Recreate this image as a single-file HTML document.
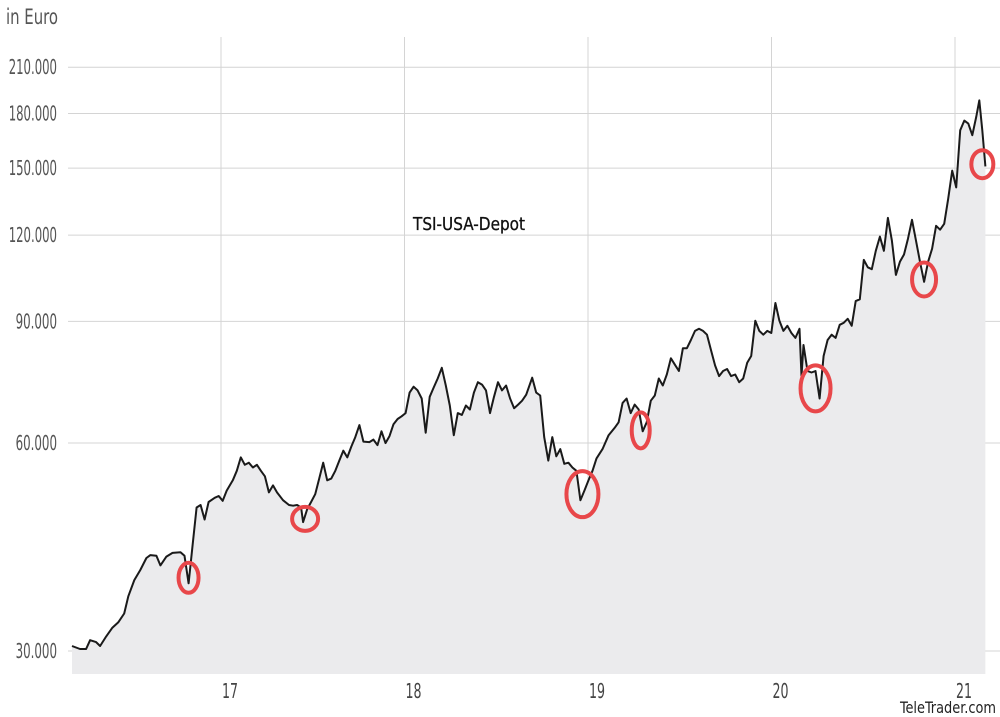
<!DOCTYPE html>
<html><head><meta charset="utf-8"><style>
html,body{margin:0;padding:0;background:#fff;}
svg{display:block;}
text{font-family:"Liberation Sans Narrow","DejaVu Sans Condensed","Liberation Sans",sans-serif;}
</style></head><body>
<svg id="chart" width="1000" height="717" viewBox="0 0 1000 717" xmlns="http://www.w3.org/2000/svg">
<g id="grid"></g>
<path id="area" fill="#ebebed" stroke="none"/>
<path id="line" fill="none" stroke="#1a1a1a" stroke-width="2" stroke-linejoin="round"/>
<g id="marks"></g>
<g id="labels"></g>
<text x="6" y="24" font-size="21" fill="#555" textLength="52" lengthAdjust="spacingAndGlyphs">in Euro</text>
<text x="413" y="230" font-size="18" fill="#111" textLength="112" lengthAdjust="spacingAndGlyphs" stroke="#111" stroke-width="0.3">TSI-USA-Depot</text>
<text x="996" y="713" font-size="16" fill="#222" text-anchor="end" textLength="96" lengthAdjust="spacingAndGlyphs">TeleTrader.com</text>
</svg>
<script>
const yTicks=[30,60,90,120,150,180,210];
const yTickLabels=["30.000","60.000","90.000","120.000","150.000","180.000","210.000"];
const xTicks=[17,18,19,20,21];
const xTickLabels=["17","18","19","20","21"];
const startYear=16.188;
const days=[0,16,28,36,48,56,68,80,92,104,112,124,136,148,156,168,176,188,200,216,224,232,240,248,256,264,272,284,292,300,308,320,328,
336,344,352,360,368,376,384,392,400,408,420,432,440,448,456,460,468,
476,484,492,500,508,516,524,532,540,548,556,564,572,580,592,600,608,616,624,632,640,648,656,664,672,680,688,696,704,712,720,728,736,744,752,760,768,776,784,792,800,808,816,824,832,840,848,856,864,872,880,888,896,904,916,924,932,940,948,956,964,972,980,988,996,1004,1012,1020,1028,1036,1044,1056,1068,1080,1088,1096,1104,1112,1120,1128,1136,1144,1152,1160,1168,1176,1184,1192,1200,1208,1216,1224,1232,1240,1248,1256,1264,1272,1280,1288,1296,1304,1312,1320,1328,1336,1344,1352,1360,1368,1376,1384,1392,1400,1408,1416,1424,1432,1440,1448,1452,1456,1464,1472,1480,1488,1496,1504,1512,1520,1528,1536,1544,1552,1560,1568,1576,1584,1592,1600,1608,1616,1624,1632,1640,1648,1656,1664,1672,1680,1688,1696,1704,1712,1720,1728,1736,1744,1752,1760,1768,1776,1784,1792,1800,1806,1812,1818];
const values=[30.5,30.2,30.2,31.1,30.9,30.5,31.5,32.4,33.0,34.0,36.0,38.0,39.3,40.9,41.3,41.2,39.9,41.1,41.6,41.7,41.2,37.6,42.7,48.4,48.8,46.5,49.3,50.0,50.3,49.5,51.2,53.0,54.7,
57.2,55.8,56.2,55.3,55.8,54.7,53.7,50.9,52.1,50.9,49.6,48.8,48.7,48.8,48.4,46.1,48.1,
49.3,50.6,53.3,56.2,53.0,53.3,54.7,56.6,58.5,57.2,59.3,61.2,63.7,60.3,60.2,60.7,59.6,62.4,60.0,61.4,63.9,65.0,65.6,66.3,71.0,72.4,71.5,69.6,62.1,70.0,72.2,74.4,77.1,72.7,68.0,61.6,66.3,65.9,68.0,67.1,71.0,73.5,72.9,71.5,66.3,70.0,73.5,71.5,72.7,69.6,67.4,68.2,69.1,70.5,74.6,71.0,70.3,61.2,56.6,61.2,57.4,58.8,56.0,56.2,55.3,54.7,49.6,51.2,53.0,54.7,57.0,58.8,61.6,63.1,64.3,68.6,69.6,66.3,68.2,67.1,62.4,64.3,69.1,70.3,74.4,72.7,75.4,79.6,77.9,76.3,82.3,82.3,84.6,87.2,87.8,87.2,86.1,81.8,77.7,75.0,76.3,76.8,75.0,75.4,73.5,74.4,78.4,80.2,90.2,87.2,86.1,87.2,86.6,95.7,90.2,87.2,88.7,86.6,85.2,87.8,75.0,83.2,76.3,75.9,76.3,69.6,80.2,84.6,86.1,85.2,89.0,89.6,90.8,88.7,96.3,96.9,110.5,107.8,107.1,113.9,119.4,113.9,127.1,117.8,105.1,109.8,112.5,118.6,126.3,117.8,109.8,102.7,109.8,114.7,123.8,122.2,124.6,135.5,148.8,140.7,170.2,175.8,174.0,167.4,178.2,188.0,170.2,150.9,159.5];
const circleDays=[232,464,1016,1132,1480,1696,1812];
const circleValues=[38.3,46.6,50.6,62.6,72.0,103.5,152];
const circleRx=[10,13,16,9,15,12,11];
const circleRy=[15,12,23,18,23,17,14];

const NS="http://www.w3.org/2000/svg";
function xYear(t){return 221+(t-17)*183.5;}
function xDay(d){return xYear(startYear+d/365.25);}
function yVal(v){return 651-300*Math.log(v/30);}
const grid=document.getElementById('grid');
const labels=document.getElementById('labels');
yTicks.forEach((v,i)=>{
  const l=document.createElementNS(NS,'line');
  l.setAttribute('x1',68);l.setAttribute('x2',1000);
  l.setAttribute('y1',yVal(v));l.setAttribute('y2',yVal(v));
  l.setAttribute('stroke','#d4d4d4');l.setAttribute('stroke-width','1');
  
  
  grid.appendChild(l);
  const t=document.createElementNS(NS,'text');
  t.setAttribute('x',57);t.setAttribute('y',yVal(v)+7);
  t.setAttribute('text-anchor','end');t.setAttribute('font-size','20');t.setAttribute('fill','#555');
  t.setAttribute('textLength',yTickLabels[i].length*6.9);
  t.setAttribute('lengthAdjust','spacingAndGlyphs');
  t.textContent=yTickLabels[i];
  
  
  labels.appendChild(t);
});
xTicks.forEach((yr,i)=>{
  const l=document.createElementNS(NS,'line');
  l.setAttribute('x1',xYear(yr));l.setAttribute('x2',xYear(yr));
  l.setAttribute('y1',37);l.setAttribute('y2',674);
  l.setAttribute('stroke','#d4d4d4');l.setAttribute('stroke-width','1');
  
  
  grid.appendChild(l);
  const t=document.createElementNS(NS,'text');
  t.setAttribute('x',xYear(yr)+1);t.setAttribute('y',698);
  t.setAttribute('font-size','20');t.setAttribute('fill','#444');
  t.setAttribute('textLength','16');
  t.setAttribute('lengthAdjust','spacingAndGlyphs');
  t.textContent=xTickLabels[i];
  
  
  labels.appendChild(t);
});
const n=Math.min(days.length,values.length);
let d='';
for(let i=0;i<n;i++){d+=(i?'L':'M')+xDay(days[i]).toFixed(1)+','+yVal(values[i]).toFixed(1);}
document.getElementById('line').setAttribute('d',d);
const x0=xDay(days[0]),x1=xDay(days[n-1]);
document.getElementById('area').setAttribute('d',d+'L'+x1+',674L'+x0+',674Z');
const marks=document.getElementById('marks');
circleDays.forEach((cd,i)=>{
  const e=document.createElementNS(NS,'ellipse');
  e.setAttribute('cx',xDay(cd));e.setAttribute('cy',yVal(circleValues[i]));
  e.setAttribute('rx',circleRx[i]);e.setAttribute('ry',circleRy[i]);
  e.setAttribute('fill','none');e.setAttribute('stroke','#e8474a');e.setAttribute('stroke-width','4');
  
  
  marks.appendChild(e);
});
</script>
</body></html>
